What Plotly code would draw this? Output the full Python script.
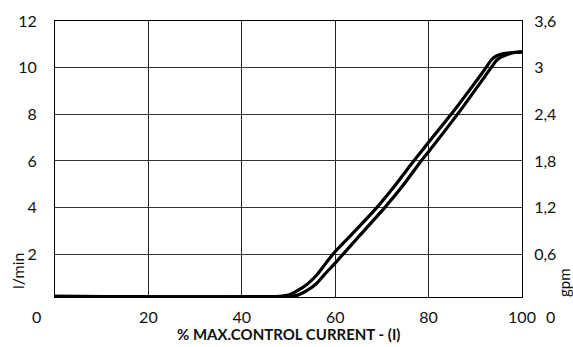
import plotly.graph_objects as go

# Curve A (upper / left branch), % control current vs flow l/min
xa = [0, 48, 50, 52, 54, 56, 58, 60, 64, 68.8, 72.8, 76.8, 80, 85.6, 89, 92.3, 93.5, 94.5, 96, 98, 100]
ya = [0.2, 0.2, 0.25, 0.45, 0.72, 1.1, 1.62, 2.12, 2.95, 3.98, 4.95, 6.0, 6.8, 8.2, 9.1, 10.0, 10.35, 10.5, 10.6, 10.65, 10.68]

# Curve B (lower / right branch)
xb = [0, 50, 52, 54, 56, 58, 60, 61, 65, 70.6, 74.5, 78.4, 80, 86.8, 93.4, 94.5, 95.5, 97, 98.5, 100]
yb = [0.2, 0.2, 0.25, 0.45, 0.75, 1.2, 1.62, 1.85, 2.75, 4.0, 4.95, 6.0, 6.4, 8.17, 10.0, 10.3, 10.45, 10.58, 10.65, 10.68]

x_ticks = [20, 40, 60, 80, 100]
y_ticks = [2, 4, 6, 8, 10, 12]
gpm_ticks = [0.6, 1.2, 1.8, 2.4, 3.0, 3.6]
gpm_labels = ["0,6", "1,2", "1,8", "2,4", "3", "3,6"]
LPM_TO_GPM = 0.3

FONT = "Lato"
Y0 = 0.17

fig = go.Figure()
for xs, ys in ((xa, ya), (xb, yb)):
    fig.add_trace(go.Scatter(x=xs, y=ys, mode="lines",
                             line=dict(color="black", width=3.2, shape="spline", smoothing=0.6),
                             hoverinfo="skip", showlegend=False))
# invisible trace to create the secondary (gpm) axis
fig.add_trace(go.Scatter(x=xa, y=[v * LPM_TO_GPM for v in ya], yaxis="y2", mode="lines",
                         line=dict(width=0), opacity=0, hoverinfo="skip", showlegend=False))

tickfont = dict(family=FONT, size=16, color="#111")
fig.update_layout(
    width=573, height=347,
    margin=dict(l=55, r=51, t=21, b=50),
    paper_bgcolor="white", plot_bgcolor="white",
    xaxis=dict(range=[0, 100], tickvals=x_ticks, showgrid=True, gridcolor="#222", gridwidth=1,
               zeroline=False, showline=True, linecolor="black", linewidth=1, mirror=True,
               ticks="", ticklabelstandoff=6, tickfont=tickfont, automargin=False),
    yaxis=dict(range=[Y0, 12], tickvals=y_ticks, showgrid=True, gridcolor="#333", gridwidth=1,
               zeroline=False, showline=True, linecolor="black", linewidth=1, mirror=True,
               ticks="", ticklabelstandoff=14, tickfont=tickfont, automargin=False),
    yaxis2=dict(range=[Y0 * LPM_TO_GPM, 12 * LPM_TO_GPM], overlaying="y", side="right",
                tickvals=gpm_ticks, ticktext=gpm_labels, showgrid=False, zeroline=False,
                showline=True, linecolor="black", linewidth=1, ticks="",
                ticklabelstandoff=8, tickfont=tickfont, automargin=False),
)

# x-axis title
fig.add_annotation(text="<b>% MAX.CONTROL CURRENT - (I)</b>", x=0.5, y=0, xref="paper", yref="paper",
                   xanchor="center", yanchor="middle", yshift=-37, showarrow=False,
                   font=dict(family=FONT, size=15, color="#111"))
# corner "0" labels and rotated unit titles
fig.add_annotation(text="0", x=0, y=0, xref="paper", yref="paper", xanchor="right", yanchor="top",
                   xshift=-12, yshift=-8, showarrow=False, font=tickfont)
fig.add_annotation(text="0", x=1, y=0, xref="paper", yref="paper", xanchor="left", yanchor="top",
                   xshift=22, yshift=-8, showarrow=False, font=tickfont)
fig.add_annotation(text="l/min", x=0, y=0, xref="paper", yref="paper", xanchor="center", yanchor="middle",
                   xshift=-38, yshift=26, textangle=-90, showarrow=False, font=tickfont)
fig.add_annotation(text="gpm", x=1, y=0, xref="paper", yref="paper", xanchor="center", yanchor="middle",
                   xshift=42, yshift=14, textangle=-90, showarrow=False,
                   font=dict(family=FONT, size=15, color="#111"))

fig.write_html("out.html", config={"displayModeBar": False},
               post_script="document.body.style.margin='0';")
